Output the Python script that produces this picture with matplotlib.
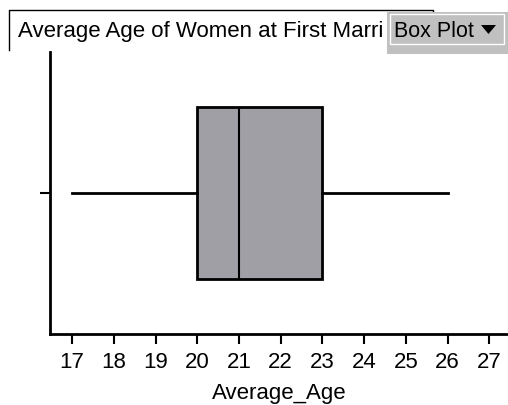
import matplotlib
matplotlib.use("Agg")
import matplotlib.pyplot as plt
from matplotlib.patches import Rectangle, Polygon
from matplotlib.lines import Line2D

plt.rcParams['font.family'] = ['Liberation Sans', 'DejaVu Sans']

# five number summary of Average_Age
whisker_low = 17
q1 = 20
median = 21
q3 = 23
whisker_high = 26
x_ticks = [17, 18, 19, 20, 21, 22, 23, 24, 25, 26, 27]

W, H = 508, 405
fig = plt.figure(figsize=(W / 100, H / 100), dpi=100)

def px(x0, y0, x1, y1):
    # pixel box (top-left origin) -> figure fraction rect
    return [x0 / W, 1 - y1 / H, (x1 - x0) / W, (y1 - y0) / H]

ax = fig.add_axes(px(50, 52, 508, 334))

stats = [{'whislo': whisker_low, 'q1': q1, 'med': median,
          'q3': q3, 'whishi': whisker_high, 'fliers': []}]
ax.bxp(stats, positions=[0.5], widths=0.612, vert=False, showcaps=False,
       patch_artist=True,
       boxprops=dict(facecolor='#a09fa6', edgecolor='black', linewidth=2),
       medianprops=dict(color='black', linewidth=1.5),
       whiskerprops=dict(color='black', linewidth=2))

ax.set_xlim(16.47, 27.45)
ax.set_ylim(0, 1)
ax.set_xticks(x_ticks)
ax.set_xticklabels([str(t) for t in x_ticks], fontsize=16)
ax.set_yticks([0.5])
ax.set_yticklabels([''])
ax.tick_params(axis='x', length=7, width=1.5, pad=6)
ax.tick_params(axis='y', length=7, width=1.5)
ax.spines['top'].set_visible(False)
ax.spines['right'].set_visible(False)
for s in ('left', 'bottom'):
    ax.spines[s].set_linewidth(2)
ax.set_xlabel('Average_Age', fontsize=16, labelpad=7)

# title box (top, left and right edges only), title is cut off by the button
fig.add_artist(Line2D([9 / W, 9 / W, 433 / W, 433 / W],
                      [1 - 50 / H, 1 - 10 / H, 1 - 10 / H, 1 - 14 / H],
                      transform=fig.transFigure, color='black', linewidth=1))
fig.text(18 / W, 1 - 37 / H, 'Average Age of Women at First Marri',
         fontsize=16, va='baseline', ha='left', zorder=2)

# "Box Plot" button
r = px(387, 12, 508, 54)
fig.add_artist(Rectangle(r[:2], r[2], r[3], transform=fig.transFigure,
                         facecolor='#c0c0c0', edgecolor='none', zorder=3))
r = px(390, 14, 504, 44)
fig.add_artist(Rectangle(r[:2], r[2], r[3], transform=fig.transFigure,
                         facecolor='#c0c0c0', edgecolor='white', linewidth=1, zorder=4))
fig.text(394 / W, 1 - 37 / H, 'Box Plot', fontsize=15.5, va='baseline',
         ha='left', zorder=5)
fig.add_artist(Polygon([(481 / W, 1 - 25 / H), (496 / W, 1 - 25 / H),
                        (488.5 / W, 1 - 34 / H)], closed=True,
                       transform=fig.transFigure, facecolor='black',
                       edgecolor='none', zorder=5))

fig.savefig('out.png', dpi=100)
